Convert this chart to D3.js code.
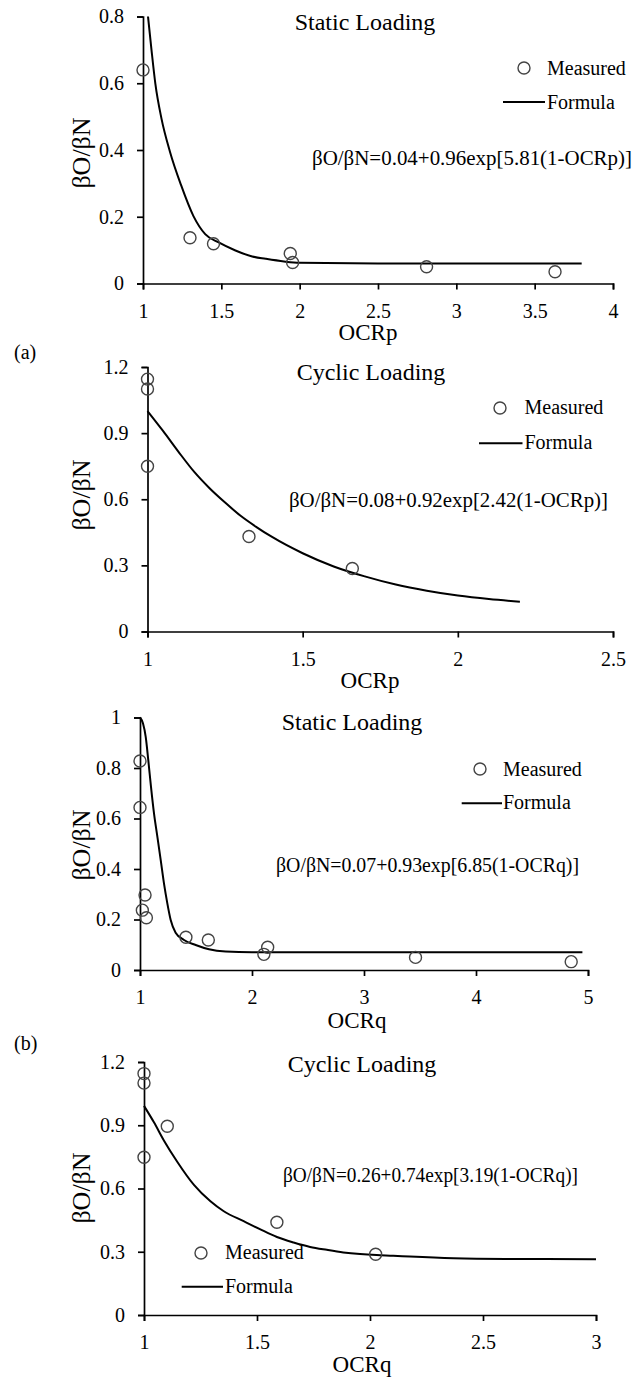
<!DOCTYPE html>
<html>
<head>
<meta charset="utf-8">
<script src="https://cdn.jsdelivr.net/npm/d3@7"></script>
<style>
  html, body { margin: 0; padding: 0; background: #fff; }
  svg { display: block; }
  text { font-family: "Liberation Serif", "Times New Roman", "DejaVu Serif", serif; fill: #000; }
</style>
</head>
<body>
<svg id="chart" width="644" height="1377" font-family="Liberation Serif, Times New Roman, serif"></svg>
<script>
// ---------- DATA ----------
// (a) Static Loading, OCRp
const aStaticMeasuredX = [1.0, 1.30, 1.45, 1.94, 1.955, 2.81, 3.63];
const aStaticMeasuredY = [0.64, 0.137, 0.119, 0.09, 0.063, 0.05, 0.035];
const aStaticFormulaX = [1.032, 1.054, 1.079, 1.118, 1.172, 1.242, 1.322, 1.397, 1.483, 1.59, 1.697, 1.783, 1.9, 2.0, 2.5, 3.0, 3.8];
const aStaticFormulaY = [0.8, 0.701, 0.598, 0.494, 0.395, 0.296, 0.202, 0.148, 0.123, 0.099, 0.081, 0.074, 0.066, 0.062, 0.060, 0.060, 0.060];

// (a) Cyclic Loading, OCRp
const aCyclicMeasuredX = [1.0, 1.0, 1.0, 1.327, 1.66];
const aCyclicMeasuredY = [1.145, 1.10, 0.75, 0.431, 0.286];
const aCyclicFormulaX = [1.0, 1.05, 1.1, 1.15, 1.2, 1.25, 1.3, 1.35, 1.4, 1.5, 1.6, 1.7, 1.8, 1.9, 2.0, 2.1, 2.2];
const aCyclicFormulaY = [1.0, 0.91, 0.815, 0.725, 0.65, 0.585, 0.525, 0.475, 0.43, 0.355, 0.295, 0.25, 0.213, 0.185, 0.163, 0.147, 0.135];

// (b) Static Loading, OCRq
const bStaticMeasuredX = [1.0, 1.0, 1.045, 1.021, 1.057, 1.41, 1.61, 2.106, 2.14, 3.46, 4.85];
const bStaticMeasuredY = [0.828, 0.644, 0.297, 0.237, 0.207, 0.13, 0.119, 0.062, 0.09, 0.05, 0.033];
const bStaticFormulaX = [1.0, 1.027, 1.051, 1.074, 1.098, 1.125, 1.155, 1.185, 1.214, 1.244, 1.274, 1.318, 1.393, 1.497, 1.616, 1.765, 2.0, 3.0, 4.95];
const bStaticFormulaY = [1.0, 0.976, 0.923, 0.831, 0.726, 0.620, 0.528, 0.435, 0.343, 0.264, 0.198, 0.148, 0.119, 0.099, 0.082, 0.073, 0.070, 0.070, 0.070];

// (b) Cyclic Loading, OCRq
const bCyclicMeasuredX = [1.0, 1.0, 1.0, 1.103, 1.588, 2.025];
const bCyclicMeasuredY = [1.145, 1.10, 0.748, 0.895, 0.44, 0.288];
const bCyclicFormulaX = [1.0, 1.044, 1.088, 1.147, 1.221, 1.294, 1.353, 1.441, 1.515, 1.588, 1.662, 1.735, 1.809, 1.882, 1.956, 2.029, 2.103, 2.176, 2.37, 2.6, 3.0];
const bCyclicFormulaY = [0.992, 0.914, 0.828, 0.727, 0.617, 0.539, 0.492, 0.445, 0.406, 0.370, 0.344, 0.323, 0.309, 0.297, 0.289, 0.284, 0.281, 0.277, 0.269, 0.266, 0.265];

// Tick values
const aStaticXTicks = [1, 1.5, 2, 2.5, 3, 3.5, 4];
const aStaticYTicks = [0, 0.2, 0.4, 0.6, 0.8];
const aCyclicXTicks = [1, 1.5, 2, 2.5];
const aCyclicYTicks = [0, 0.3, 0.6, 0.9, 1.2];
const bStaticXTicks = [1, 2, 3, 4, 5];
const bStaticYTicks = [0, 0.2, 0.4, 0.6, 0.8, 1];
const bCyclicXTicks = [1, 1.5, 2, 2.5, 3];
const bCyclicYTicks = [0, 0.3, 0.6, 0.9, 1.2];

// Text labels
const panelTitles = ["Static Loading", "Cyclic Loading", "Static Loading", "Cyclic Loading"];
const xAxisTitles = ["OCRp", "OCRp", "OCRq", "OCRq"];
const yAxisTitle = "βO/βN";
const equations = [
  "βO/βN=0.04+0.96exp[5.81(1-OCRp)]",
  "βO/βN=0.08+0.92exp[2.42(1-OCRp)]",
  "βO/βN=0.07+0.93exp[6.85(1-OCRq)]",
  "βO/βN=0.26+0.74exp[3.19(1-OCRq)]"
];
const legendLabels = ["Measured", "Formula"];
const partLabels = ["(a)", "(b)"];

// ---------- LAYOUT ----------
const FONT = '"Liberation Serif", "Times New Roman", "DejaVu Serif", serif';
const svg = d3.select("#chart");

const panels = [
  { mx: aStaticMeasuredX, my: aStaticMeasuredY, fx: aStaticFormulaX, fy: aStaticFormulaY,
    xt: aStaticXTicks, yt: aStaticYTicks, xd: [1, 4], yd: [0, 0.8],
    xr: [143, 613], yr: [283.5, 16.5],
    title: { x: 365, y: 30 }, xlab: { x: 368, y: 340 }, ylab: { x: 81, y: 153 },
    eq: { x: 312, y: 165, w: 320 },
    leg: { cx: 524, cy: 68, tx: 547, ty1: 75, lx1: 503, lx2: 545, ly: 102, ty2: 109 } },
  { mx: aCyclicMeasuredX, my: aCyclicMeasuredY, fx: aCyclicFormulaX, fy: aCyclicFormulaY,
    xt: aCyclicXTicks, yt: aCyclicYTicks, xd: [1, 2.5], yd: [0, 1.2],
    xr: [147.5, 613], yr: [631.5, 367],
    title: { x: 371, y: 380 }, xlab: { x: 370, y: 688 }, ylab: { x: 81, y: 495 },
    eq: { x: 289, y: 507, w: 319 },
    leg: { cx: 500, cy: 408, tx: 524.5, ty1: 414, lx1: 479, lx2: 522.5, ly: 443.3, ty2: 449 } },
  { mx: bStaticMeasuredX, my: bStaticMeasuredY, fx: bStaticFormulaX, fy: bStaticFormulaY,
    xt: bStaticXTicks, yt: bStaticYTicks, xd: [1, 5], yd: [0, 1],
    xr: [140, 588], yr: [970, 717.5],
    title: { x: 352, y: 730 }, xlab: { x: 357, y: 1028 }, ylab: { x: 81, y: 845 },
    eq: { x: 276, y: 872, w: 303 },
    leg: { cx: 480, cy: 769, tx: 503, ty1: 776, lx1: 461.7, lx2: 502, ly: 803.3, ty2: 809 } },
  { mx: bCyclicMeasuredX, my: bCyclicMeasuredY, fx: bCyclicFormulaX, fy: bCyclicFormulaY,
    xt: bCyclicXTicks, yt: bCyclicYTicks, xd: [1, 3], yd: [0, 1.2],
    xr: [144, 596], yr: [1315, 1062],
    title: { x: 362, y: 1072 }, xlab: { x: 362, y: 1372 }, ylab: { x: 81, y: 1188 },
    eq: { x: 283, y: 1182, w: 295 },
    leg: { cx: 201, cy: 1253, tx: 225, ty1: 1259, lx1: 181.7, lx2: 223, ly: 1286.7, ty2: 1293 } }
];

const fmt = d3.format("~g");

panels.forEach((p, i) => {
  const g = svg.append("g");
  const x = d3.scaleLinear().domain(p.xd).range(p.xr);
  const y = d3.scaleLinear().domain(p.yd).range(p.yr);

  // axes
  const xAxis = d3.axisBottom(x).tickValues(p.xt).tickFormat(fmt).tickSize(6).tickPadding(14);
  const yAxis = d3.axisLeft(y).tickValues(p.yt).tickFormat(fmt).tickSize(6).tickPadding(13);

  const gx = g.append("g").attr("transform", `translate(0,${p.yr[0]})`).call(xAxis);
  const gy = g.append("g").attr("transform", `translate(${p.xr[0]},0)`).call(yAxis);
  [gx, gy].forEach(ax => {
    ax.attr("font-family", FONT).attr("font-size", 20);
    ax.selectAll("path.domain").attr("stroke", "#000").attr("stroke-width", 1.7);
    ax.selectAll(".tick line").attr("stroke", "#000").attr("stroke-width", 1.7);
    ax.selectAll(".tick text")
      .style("font-family", FONT)
      .style("font-size", "20px").attr("fill", "#000");
  });

  // formula curve
  const curveData = p.fx.map((v, k) => [v, p.fy[k]]);
  g.append("path")
    .datum(curveData)
    .attr("fill", "none")
    .attr("stroke", "#000")
    .attr("stroke-width", 2)
    .attr("d", d3.line().x(d => x(d[0])).y(d => y(d[1])).curve(d3.curveMonotoneX));

  // measured points
  const ptData = p.mx.map((v, k) => [v, p.my[k]]);
  g.selectAll("circle.pt").data(ptData).enter().append("circle")
    .attr("class", "pt")
    .attr("cx", d => x(d[0])).attr("cy", d => y(d[1])).attr("r", 6)
    .attr("fill", "none").attr("stroke", "#444").attr("stroke-width", 1.4);

  // title
  g.append("text").attr("x", p.title.x).attr("y", p.title.y)
    .attr("text-anchor", "middle").style("font-family", FONT).style("font-size", "24px").text(panelTitles[i]);

  // x axis title
  g.append("text").attr("x", p.xlab.x).attr("y", p.xlab.y)
    .attr("text-anchor", "middle").style("font-family", FONT).style("font-size", "23px").text(xAxisTitles[i]);

  // y axis title
  g.append("text")
    .attr("transform", `translate(${p.ylab.x},${p.ylab.y}) rotate(-90)`)
    .attr("text-anchor", "middle").attr("dominant-baseline", "central")
    .style("font-family", FONT).style("font-size", "26px").text(yAxisTitle);

  // equation
  g.append("text").attr("x", p.eq.x).attr("y", p.eq.y)
    .attr("textLength", p.eq.w).attr("lengthAdjust", "spacingAndGlyphs")
    .style("font-family", FONT).style("font-size", "20px").text(equations[i]);

  // legend
  const L = p.leg;
  g.append("circle").attr("cx", L.cx).attr("cy", L.cy).attr("r", 6)
    .attr("fill", "none").attr("stroke", "#444").attr("stroke-width", 1.4);
  g.append("text").attr("x", L.tx).attr("y", L.ty1)
    .style("font-family", FONT).style("font-size", "20px").text(legendLabels[0]);
  g.append("line").attr("x1", L.lx1).attr("x2", L.lx2).attr("y1", L.ly).attr("y2", L.ly)
    .attr("stroke", "#000").attr("stroke-width", 2);
  g.append("text").attr("x", L.tx).attr("y", L.ty2)
    .style("font-family", FONT).style("font-size", "20px").text(legendLabels[1]);
});

// part labels
svg.append("text").attr("x", 14).attr("y", 359).style("font-family", FONT).style("font-size", "20px").text(partLabels[0]);
svg.append("text").attr("x", 14).attr("y", 1050).style("font-family", FONT).style("font-size", "20px").text(partLabels[1]);
</script>
</body>
</html>
